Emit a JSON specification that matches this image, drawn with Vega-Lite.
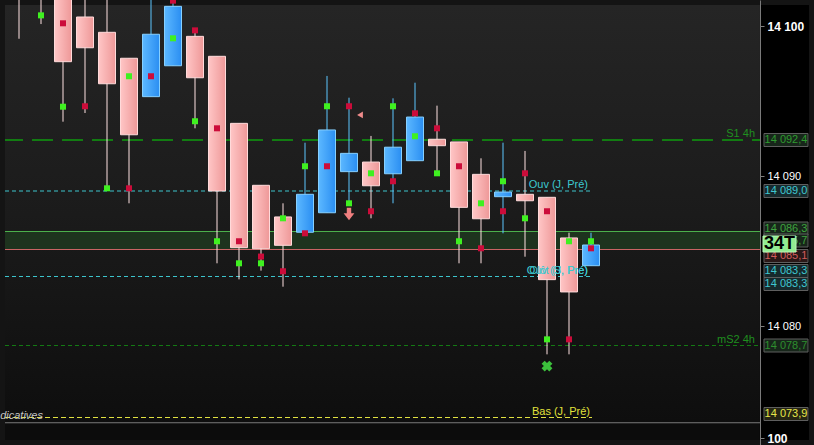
{
  "$schema": "https://vega.github.io/schema/vega-lite/v6.json",
  "width": 814,
  "height": 445,
  "padding": 0,
  "autosize": {"type": "fit", "contains": "padding"},
  "background": "#141414",
  "config": {"view": {"stroke": null}, "font": "Liberation Sans", "axis": {"grid": false}},
  "datasets": {
    "candles": [
      {"i": 1, "o": 14103.0, "h": 14103.5, "l": 14099.15, "c": 14102.2},
      {"i": 2, "o": 14102.9, "h": 14103.2, "l": 14100.13, "c": 14102.1, "g": 14100.71},
      {"i": 3, "o": 14102.3, "h": 14102.6, "l": 14093.62, "c": 14097.62, "g": 14094.62, "r": 14100.18},
      {"i": 4, "o": 14100.6, "h": 14102.5, "l": 14094.2, "c": 14098.55, "r": 14094.65},
      {"i": 5, "o": 14099.58, "h": 14102.5, "l": 14089.07, "c": 14096.15, "g": 14089.18},
      {"i": 6, "o": 14097.85, "h": 14097.85, "l": 14088.18, "c": 14092.75, "g": 14096.65, "r": 14089.18},
      {"i": 7, "o": 14095.29, "h": 14102.5, "l": 14095.29, "c": 14099.45, "r": 14096.65},
      {"i": 8, "o": 14097.35, "h": 14102.2, "l": 14097.35, "c": 14101.31, "g": 14099.18, "r": 14101.69},
      {"i": 9, "o": 14099.31, "h": 14099.69, "l": 14093.18, "c": 14096.55, "g": 14093.65, "r": 14099.71},
      {"i": 10, "o": 14097.98, "h": 14097.98, "l": 14084.18, "c": 14089.0, "g": 14085.65, "r": 14093.18},
      {"i": 11, "o": 14093.51, "h": 14093.51, "l": 14083.11, "c": 14085.22, "g": 14084.18, "r": 14085.65},
      {"i": 12, "o": 14089.38, "h": 14089.38, "l": 14083.69, "c": 14085.15, "g": 14084.18, "r": 14084.63},
      {"i": 13, "o": 14087.27, "h": 14088.18, "l": 14082.62, "c": 14085.38, "g": 14087.18, "r": 14083.65},
      {"i": 14, "o": 14086.25, "h": 14092.22, "l": 14086.18, "c": 14088.78, "g": 14090.65, "r": 14086.18},
      {"i": 15, "o": 14087.55, "h": 14096.67, "l": 14087.55, "c": 14093.07, "g": 14094.65, "r": 14090.65},
      {"i": 16, "o": 14090.29, "h": 14095.22, "l": 14088.18, "c": 14091.51, "g": 14088.18, "r": 14094.65},
      {"i": 17, "o": 14090.93, "h": 14092.67, "l": 14087.18, "c": 14089.35, "g": 14090.18, "r": 14087.65},
      {"i": 18, "o": 14090.15, "h": 14095.18, "l": 14088.18, "c": 14091.92, "g": 14094.65, "r": 14089.65},
      {"i": 19, "o": 14091.02, "h": 14096.22, "l": 14091.02, "c": 14093.93, "g": 14092.65, "r": 14094.18},
      {"i": 20, "o": 14092.45, "h": 14094.69, "l": 14090.18, "c": 14092.02, "g": 14090.18, "r": 14093.18},
      {"i": 21, "o": 14092.27, "h": 14092.27, "l": 14084.18, "c": 14087.91, "g": 14085.65, "r": 14090.65},
      {"i": 22, "o": 14090.11, "h": 14091.18, "l": 14084.18, "c": 14087.15, "g": 14088.18, "r": 14085.18},
      {"i": 23, "o": 14088.62, "h": 14092.22, "l": 14086.18, "c": 14088.93, "g": 14089.65, "r": 14087.65},
      {"i": 24, "o": 14088.78, "h": 14091.67, "l": 14084.62, "c": 14088.35, "g": 14087.18, "r": 14090.18},
      {"i": 25, "o": 14088.58, "h": 14088.58, "l": 14078.11, "c": 14083.09, "g": 14079.11, "r": 14087.65},
      {"i": 26, "o": 14085.87, "h": 14086.22, "l": 14078.11, "c": 14082.27, "g": 14085.65, "r": 14079.11},
      {"i": 27, "o": 14084.02, "h": 14086.22, "l": 14084.02, "c": 14085.4, "g": 14085.65, "r": 14085.18}
    ],
    "signals": [
      {"i": 16.5, "p": 14094.07, "s": "tri"},
      {"i": 16, "p": 14087.47, "s": "down"},
      {"i": 25, "p": 14077.33, "s": "x"}
    ],
    "levels": [
      {"key": "S1", "label": "S1 4h", "value": 14092.4, "box": "14 092,4"},
      {"key": "OuvJ", "label": "Ouv (J, Pré)", "value": 14089.0, "box": "14 089,0"},
      {"key": "ZoneH", "label": "", "value": 14086.3, "box": "14 086,3"},
      {"key": "ZoneM", "label": "", "value": 14085.7, "box": "14 085,7"},
      {"key": "ZoneL", "label": "", "value": 14085.1, "box": "14 085,1"},
      {"key": "OuvS", "label": "Ouv (S, Pré)", "value": 14083.3, "box": "14 083,3"},
      {"key": "ClotJ", "label": "Clôt (J, Pré)", "value": 14083.3, "box": "14 083,3"},
      {"key": "mS2", "label": "mS2 4h", "value": 14078.7, "box": "14 078,7"},
      {"key": "BasJ", "label": "Bas (J, Pré)", "value": 14073.9, "box": "14 073,9"}
    ],
    "last": [{"label": "34T", "value": 14085.4}],
    "notes": [{"label": "Indicatives", "value": 14074.0}]
  },
  "layer": [
    {
      "data": {"values": [{}]},
      "mark": {"type": "rect", "color": {"gradient": "linear", "x1": 0, "y1": 0, "x2": 0, "y2": 1, "stops": [{"offset": 0, "color": "#252525"}, {"offset": 0.5, "color": "#1b1b1b"}, {"offset": 1, "color": "#0e0e0e"}]}},
      "encoding": {
        "x": {"datum": 0.3636, "type": "quantitative", "scale": {"domain": [0.3636, 36.9091], "nice": false, "zero": false},
          "axis": {"domain": false, "ticks": false, "labels": false, "grid": false, "title": null}},
        "x2": {"datum": 34.6818},
        "y": {"datum": 14101.4, "type": "quantitative", "scale": {"domain": [14072.4, 14101.4], "nice": false, "zero": false},
          "axis": {"orient": "right", "offset": -54, "title": null, "grid": false, "values": [14080, 14090, 14100, 14072.5],
            "labelExpr": "datum.value < 14073 ? '100' : replace(format(datum.value, ','), ',', ' ')",
            "labelColor": "#ffffff", "labelFontSize": {"condition": {"test": "datum.value == 14100 || datum.value < 14073", "value": 12}, "value": 11},
            "labelFontWeight": {"condition": {"test": "datum.value == 14100 || datum.value < 14073", "value": "bold"}, "value": "normal"},
            "labelPadding": 3, "labelFont": "Liberation Sans", "labelAlign": "left", "labelBaseline": "middle",
            "tickSize": 4, "tickColor": "#808080", "domainColor": "#7a7a7a", "labelOverlap": false, "labelFlush": false, "zindex": 1}},
        "y2": {"datum": 14073.6}
      }
    },
    {
      "data": {"values": [{}]},
      "mark": {"type": "rect", "color": "#0c0c0c"},
      "encoding": {
        "x": {"datum": 0.3636, "type": "quantitative"},
        "x2": {"datum": 34.6818},
        "y": {"datum": 14073.6, "type": "quantitative"},
        "y2": {"datum": 14072.4}
      }
    },
    {
      "data": {"values": [{}]},
      "mark": {"type": "rect", "color": "#000000"},
      "encoding": {
        "x": {"datum": 34.6818, "type": "quantitative"},
        "x2": {"datum": 36.9091},
        "y": {"datum": 14101.4, "type": "quantitative"},
        "y2": {"datum": 14072.4}
      }
    },
    {
      "data": {"name": "levels"},
      "transform": [{"filter": "datum.key == 'ZoneH'"}],
      "mark": {"type": "rect", "color": "#1e331e"},
      "encoding": {
        "x": {"datum": 0.3636, "type": "quantitative"},
        "x2": {"datum": 34.6818},
        "y": {"field": "value", "type": "quantitative"},
        "y2": {"datum": 14085.1}
      }
    },
    {
      "data": {"name": "levels"},
      "transform": [{"filter": "datum.key == 'ZoneH'"}],
      "mark": {"type": "rule", "color": "#4caf4c", "strokeWidth": 1},
      "encoding": {
        "x": {"datum": 0.3636, "type": "quantitative"},
        "x2": {"datum": 34.6818},
        "y": {"field": "value", "type": "quantitative"}
      }
    },
    {
      "data": {"name": "levels"},
      "transform": [{"filter": "datum.key == 'ZoneL'"}],
      "mark": {"type": "rule", "color": "#c86464", "strokeWidth": 1},
      "encoding": {
        "x": {"datum": 0.3636, "type": "quantitative"},
        "x2": {"datum": 34.6818},
        "y": {"field": "value", "type": "quantitative"}
      }
    },
    {
      "data": {"name": "levels"},
      "transform": [{"filter": "datum.key == 'S1'"}],
      "mark": {"type": "rule", "color": "#127c12", "strokeWidth": 2, "strokeDash": [21, 9], "strokeDashOffset": 3},
      "encoding": {
        "x": {"datum": 0.3636, "type": "quantitative"},
        "x2": {"datum": 34.6818},
        "y": {"field": "value", "type": "quantitative"}
      }
    },
    {
      "data": {"name": "levels"},
      "transform": [{"filter": "datum.key == 'mS2'"}],
      "mark": {"type": "rule", "color": "#137a13", "strokeWidth": 1, "strokeDash": [4, 3]},
      "encoding": {
        "x": {"datum": 0.3636, "type": "quantitative"},
        "x2": {"datum": 34.6818},
        "y": {"field": "value", "type": "quantitative"}
      }
    },
    {
      "data": {"name": "levels"},
      "transform": [{"filter": "datum.key == 'OuvJ' || datum.key == 'OuvS'"}],
      "mark": {"type": "rule", "color": "#3cc4cc", "strokeWidth": 1, "strokeDash": [4, 3]},
      "encoding": {
        "x": {"datum": 0.3636, "type": "quantitative"},
        "x2": {"datum": 27.0455},
        "y": {"field": "value", "type": "quantitative"}
      }
    },
    {
      "data": {"name": "levels"},
      "transform": [{"filter": "datum.key == 'BasJ'"}],
      "mark": {"type": "rule", "color": "#e0e040", "strokeWidth": 1, "strokeDash": [5, 3]},
      "encoding": {
        "x": {"datum": 0.3636, "type": "quantitative"},
        "x2": {"datum": 27.0455},
        "y": {"field": "value", "type": "quantitative"}
      }
    },
    {
      "data": {"values": [{}]},
      "mark": {"type": "rule", "color": "#7a7a7a", "strokeWidth": 1},
      "encoding": {
        "x": {"datum": 0.3636, "type": "quantitative"},
        "x2": {"datum": 34.6818},
        "y": {"datum": 14073.55, "type": "quantitative"}
      }
    },
    {
      "data": {"name": "candles"},
      "mark": {"type": "rule", "strokeWidth": 1, "clip": true},
      "encoding": {
        "x": {"field": "i", "type": "quantitative"},
        "y": {"field": "l", "type": "quantitative"},
        "y2": {"field": "h"},
        "color": {"condition": {"test": "datum.c < datum.o", "value": "#ffe2e2"}, "value": "#5cc6ff"}
      }
    },
    {
      "data": {"name": "candles"},
      "transform": [{"filter": "datum.c < datum.o"}],
      "mark": {"type": "bar", "orient": "vertical", "size": 17, "clip": true, "stroke": "#ffdada", "strokeWidth": 1,
        "color": {"gradient": "linear", "x1": 0, "y1": 0, "x2": 1, "y2": 0, "stops": [{"offset": 0, "color": "#ffc6c6"}, {"offset": 1, "color": "#ee9898"}]}},
      "encoding": {
        "x": {"field": "i", "type": "quantitative"},
        "y": {"field": "o", "type": "quantitative"},
        "y2": {"field": "c"}
      }
    },
    {
      "data": {"name": "candles"},
      "transform": [{"filter": "datum.c >= datum.o"}],
      "mark": {"type": "bar", "orient": "vertical", "size": 17, "clip": true, "stroke": "#86d0ff", "strokeWidth": 1,
        "color": {"gradient": "linear", "x1": 0, "y1": 0, "x2": 1, "y2": 0, "stops": [{"offset": 0, "color": "#5cb8ff"}, {"offset": 1, "color": "#2a8ef2"}]}},
      "encoding": {
        "x": {"field": "i", "type": "quantitative"},
        "y": {"field": "o", "type": "quantitative"},
        "y2": {"field": "c"}
      }
    },
    {
      "data": {"name": "candles"},
      "transform": [{"filter": "isValid(datum.g)"}],
      "mark": {"type": "point", "shape": "square", "filled": true, "size": 36, "opacity": 1, "color": "#3ff020", "clip": true},
      "encoding": {
        "x": {"field": "i", "type": "quantitative"},
        "y": {"field": "g", "type": "quantitative"}
      }
    },
    {
      "data": {"name": "candles"},
      "transform": [{"filter": "isValid(datum.r)"}],
      "mark": {"type": "point", "shape": "square", "filled": true, "size": 36, "opacity": 1, "color": "#cc0c3a", "clip": true},
      "encoding": {
        "x": {"field": "i", "type": "quantitative"},
        "y": {"field": "r", "type": "quantitative"}
      }
    },
    {
      "data": {"name": "signals"},
      "transform": [{"filter": "datum.s == 'tri'"}],
      "mark": {"type": "point", "shape": "triangle-left", "filled": true, "size": 45, "opacity": 1, "color": "#f08c8c"},
      "encoding": {
        "x": {"field": "i", "type": "quantitative"},
        "y": {"field": "p", "type": "quantitative"}
      }
    },
    {
      "data": {"name": "signals"},
      "transform": [{"filter": "datum.s == 'down'"}],
      "mark": {"type": "point", "shape": "M-0.35,-1H0.35V-0.1H0.85L0,1L-0.85,-0.1H-0.35Z", "filled": true, "size": 160, "opacity": 1, "color": "#f07f7f"},
      "encoding": {
        "x": {"field": "i", "type": "quantitative"},
        "y": {"field": "p", "type": "quantitative"}
      }
    },
    {
      "data": {"name": "signals"},
      "transform": [{"filter": "datum.s == 'x'"}],
      "mark": {"type": "point", "shape": "cross", "angle": 45, "filled": true, "size": 120, "opacity": 1, "color": "#3cc03c"},
      "encoding": {
        "x": {"field": "i", "type": "quantitative"},
        "y": {"field": "p", "type": "quantitative"}
      }
    },
    {
      "data": {"name": "levels"},
      "transform": [{"filter": "datum.key == 'S1' || datum.key == 'mS2'"}],
      "mark": {"type": "text", "align": "right", "baseline": "bottom", "fontSize": 11, "color": "#1f8f1f", "yOffset": -1},
      "encoding": {
        "x": {"datum": 34.4545, "type": "quantitative"},
        "y": {"field": "value", "type": "quantitative"},
        "text": {"field": "label"}
      }
    },
    {
      "data": {"name": "levels"},
      "transform": [{"filter": "datum.key == 'OuvJ' || datum.key == 'OuvS' || datum.key == 'ClotJ'"}],
      "mark": {"type": "text", "align": "right", "baseline": "bottom", "fontSize": 11, "color": "#3cc8d0", "yOffset": -1},
      "encoding": {
        "x": {"datum": 26.8636, "type": "quantitative"},
        "y": {"field": "value", "type": "quantitative"},
        "text": {"field": "label"}
      }
    },
    {
      "data": {"name": "levels"},
      "transform": [{"filter": "datum.key == 'BasJ'"}],
      "mark": {"type": "text", "align": "right", "baseline": "bottom", "fontSize": 11, "color": "#e2e23c", "yOffset": -1},
      "encoding": {
        "x": {"datum": 26.9545, "type": "quantitative"},
        "y": {"field": "value", "type": "quantitative"},
        "text": {"field": "label"}
      }
    },
    {
      "data": {"name": "notes"},
      "mark": {"type": "text", "align": "right", "baseline": "middle", "fontSize": 11, "fontStyle": "italic", "color": "#c4c4c4", "clip": true},
      "encoding": {
        "x": {"datum": 2.0909, "type": "quantitative"},
        "y": {"field": "value", "type": "quantitative"},
        "text": {"field": "label"}
      }
    },
    {
      "data": {"name": "levels"},
      "mark": {"type": "bar", "orient": "horizontal", "size": 13, "stroke": "#5e5e5e", "strokeWidth": 1,
        "yOffset": {"expr": "datum.key == 'ZoneH' ? -3 : datum.key == 'ZoneL' ? 6.5 : datum.key == 'OuvS' ? -5.5 : datum.key == 'ClotJ' ? 7.5 : datum.key == 'BasJ' ? -3.5 : 0"}},
      "encoding": {
        "x": {"datum": 34.8636, "type": "quantitative"},
        "x2": {"datum": 36.8636},
        "y": {"field": "value", "type": "quantitative"},
        "fill": {"field": "key", "type": "nominal", "legend": null,
          "scale": {"domain": ["S1", "OuvJ", "ZoneH", "ZoneM", "ZoneL", "OuvS", "ClotJ", "mS2", "BasJ"],
            "range": ["#17261a", "#172a2d", "#17261a", "#17261a", "#2a1818", "#172a2d", "#172a2d", "#17261a", "#262614"]}}
      }
    },
    {
      "data": {"name": "levels"},
      "mark": {"type": "text", "align": "center", "baseline": "middle", "fontSize": 11,
        "yOffset": {"expr": "datum.key == 'ZoneH' ? -3 : datum.key == 'ZoneL' ? 6.5 : datum.key == 'OuvS' ? -5.5 : datum.key == 'ClotJ' ? 7.5 : datum.key == 'BasJ' ? -3.5 : 0"}},
      "encoding": {
        "x": {"datum": 35.8636, "type": "quantitative"},
        "y": {"field": "value", "type": "quantitative"},
        "text": {"field": "box"},
        "color": {"field": "key", "type": "nominal", "legend": null,
          "scale": {"domain": ["S1", "OuvJ", "ZoneH", "ZoneM", "ZoneL", "OuvS", "ClotJ", "mS2", "BasJ"],
            "range": ["#2e9a2e", "#3fc6d0", "#3fa23f", "#3fa23f", "#d05c5c", "#3fc6d0", "#3fc6d0", "#2e8e2e", "#e6e64a"]}}
      }
    },
    {
      "data": {"name": "last"},
      "mark": {"type": "bar", "orient": "horizontal", "size": 16, "color": "#92ec92", "stroke": "#b8f5b8", "strokeWidth": 1, "yOffset": -1},
      "encoding": {
        "x": {"datum": 34.8182, "type": "quantitative"},
        "x2": {"datum": 36.3182},
        "y": {"field": "value", "type": "quantitative"}
      }
    },
    {
      "data": {"name": "last"},
      "mark": {"type": "text", "align": "center", "baseline": "middle", "fontSize": 18, "fontWeight": "bold", "color": "#000000", "yOffset": -1},
      "encoding": {
        "x": {"datum": 35.5682, "type": "quantitative"},
        "y": {"field": "value", "type": "quantitative"},
        "text": {"field": "label"}
      }
    }
  ]
}
